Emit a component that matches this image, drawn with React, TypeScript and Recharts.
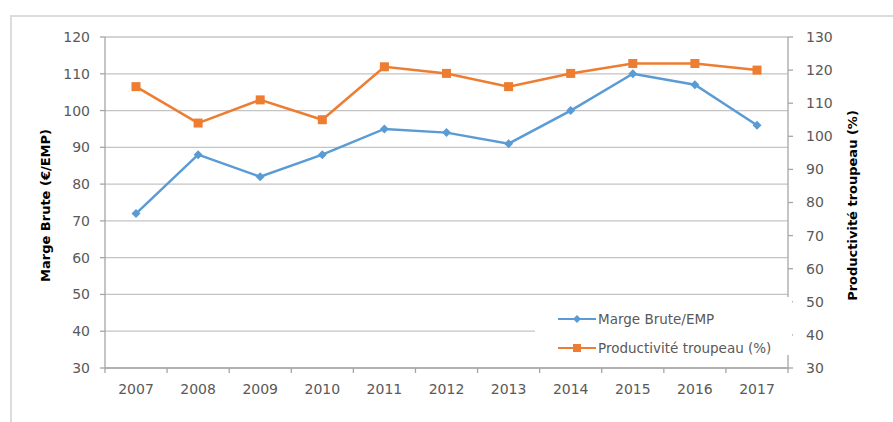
import { CartesianGrid, Legend, Line, LineChart, XAxis, YAxis } from 'recharts';

const years = ['2007', '2008', '2009', '2010', '2011', '2012', '2013', '2014', '2015', '2016', '2017'];
// Marge Brute (€/EMP), left axis
const margeBrute = [72, 88, 82, 88, 95, 94, 91, 100, 110, 107, 96];
// Productivité troupeau (%), right axis
const productivite = [115, 104, 111, 105, 121, 119, 115, 119, 122, 122, 120];

const leftTicks = [30, 40, 50, 60, 70, 80, 90, 100, 110, 120];
const rightTicks = [30, 40, 50, 60, 70, 80, 90, 100, 110, 120, 130];
// category boundaries for the x-axis tick marks
const boundaryTicks = [0, 1, 2, 3, 4, 5, 6, 7, 8, 9, 10, 11];

const BLUE = '#5B9BD5';
const ORANGE = '#ED7D31';
const AXIS = '#A6A6A6';
const GRID = '#C4C4C4';
const TEXT = '#595959';
const FONT = '"DejaVu Sans", sans-serif';

const data = years.map((year, i) => ({
  year,
  slot: i + 0.5,
  marge: margeBrute[i],
  prod: productivite[i],
}));

function DiamondDot(props: any) {
  const { cx, cy } = props;
  if (cx == null || cy == null) return null;
  const r = 4.5;
  return (
    <polygon
      points={`${cx},${cy - r} ${cx + r},${cy} ${cx},${cy + r} ${cx - r},${cy}`}
      fill={BLUE}
    />
  );
}

function SquareDot(props: any) {
  const { cx, cy } = props;
  if (cx == null || cy == null) return null;
  return <rect x={cx - 4.5} y={cy - 4.5} width={9} height={9} fill={ORANGE} />;
}

function AxisTitle({ viewBox, value, shift }: any) {
  const cx = viewBox.x + viewBox.width / 2 + shift;
  const cy = viewBox.y + viewBox.height / 2 + 3;
  return (
    <text
      x={cx}
      y={cy}
      transform={`rotate(-90, ${cx}, ${cy})`}
      textAnchor="middle"
      dominantBaseline="central"
      fontFamily={FONT}
      fontSize={13}
      fontWeight="bold"
      fill="#000"
    >
      {value}
    </text>
  );
}

function LegendContent({ payload }: any) {
  if (!payload) return null;
  return (
    <div style={{ paddingTop: 7, paddingLeft: 23 }}>
      {payload.map((entry: any, i: number) => (
        <div
          key={entry.value}
          style={{ display: 'flex', alignItems: 'center', height: 29 }}
        >
          <svg width={38} height={12} style={{ marginRight: 2 }}>
            <line x1={0} y1={6} x2={38} y2={6} stroke={entry.color} strokeWidth={2} />
            {i === 0 ? (
              <polygon points="19,2 23,6 19,10 15,6" fill={entry.color} />
            ) : (
              <rect x={15} y={2} width={8} height={8} fill={entry.color} />
            )}
          </svg>
          <span style={{ fontFamily: FONT, fontSize: 13.5, color: TEXT }}>{entry.value}</span>
        </div>
      ))}
    </div>
  );
}

export default function App() {
  return (
    <div style={{ position: 'absolute', left: 0, top: 0, width: 893, height: 422, background: '#fff' }}>
      <div
        style={{
          position: 'absolute',
          left: 10,
          top: 15,
          width: 900,
          height: 420,
          borderTop: '2px solid #DCDCDC',
          borderLeft: '2px solid #DCDCDC',
        }}
      />
      <div style={{ position: 'absolute', left: 0, top: 0 }}>
        <LineChart
          width={893}
          height={422}
          data={data}
          margin={{ top: 37, right: 0, bottom: 24, left: 0 }}
        >
          <CartesianGrid yAxisId="left" xAxisId="years" vertical={false} stroke={GRID} strokeWidth={1.3} />
          <XAxis
            xAxisId="bounds"
            dataKey="slot"
            type="number"
            domain={[0, 11]}
            allowDataOverflow
            ticks={boundaryTicks}
            interval={0}
            height={1}
            tickSize={5}
            tick={{ fontSize: 1, fill: 'none' }}
            tickFormatter={() => ' '}
            stroke={AXIS}
            strokeWidth={1.3}
          />
          <XAxis
            xAxisId="years"
            dataKey="year"
            height={29}
            padding={{ left: 31, right: 31 }}
            axisLine={false}
            tickLine={false}
            tickSize={8}
            tickMargin={7}
            interval={0}
            tick={{ fill: TEXT, fontSize: 14, fontFamily: FONT }}
          />
          <YAxis
            yAxisId="left"
            width={105}
            domain={[30, 120]}
            ticks={leftTicks}
            interval={0}
            tickSize={5}
            tickMargin={10}
            stroke={AXIS}
            strokeWidth={1.3}
            tick={{ fill: TEXT, fontSize: 14, fontFamily: FONT }}
            label={(p: any) => <AxisTitle {...p} value="Marge Brute (€/EMP)" shift={-7} />}
          />
          <YAxis
            yAxisId="right"
            orientation="right"
            width={105}
            domain={[30, 130]}
            ticks={rightTicks}
            interval={0}
            tickSize={5}
            tickMargin={13}
            stroke={AXIS}
            strokeWidth={1.3}
            tick={{ fill: TEXT, fontSize: 14, fontFamily: FONT }}
            label={(p: any) => <AxisTitle {...p} value="Productivité troupeau (%)" shift={12} />}
          />
          <Legend
            layout="vertical"
            align="center"
            verticalAlign="middle"
            wrapperStyle={{ left: 535, top: 297, width: 257, height: 58, background: '#fff' }}
            content={(p: any) => <LegendContent {...p} />}
          />
          <Line
            xAxisId="years"
            yAxisId="left"
            dataKey="marge"
            name="Marge Brute/EMP"
            stroke={BLUE}
            strokeWidth={2.5}
            dot={(p: any) => <DiamondDot key={`d-${p.index}`} {...p} />}
            activeDot={false}
            isAnimationActive={false}
          />
          <Line
            xAxisId="years"
            yAxisId="right"
            dataKey="prod"
            name="Productivité troupeau (%)"
            stroke={ORANGE}
            strokeWidth={2.5}
            dot={(p: any) => <SquareDot key={`s-${p.index}`} {...p} />}
            activeDot={false}
            isAnimationActive={false}
          />
        </LineChart>
      </div>
    </div>
  );
}
